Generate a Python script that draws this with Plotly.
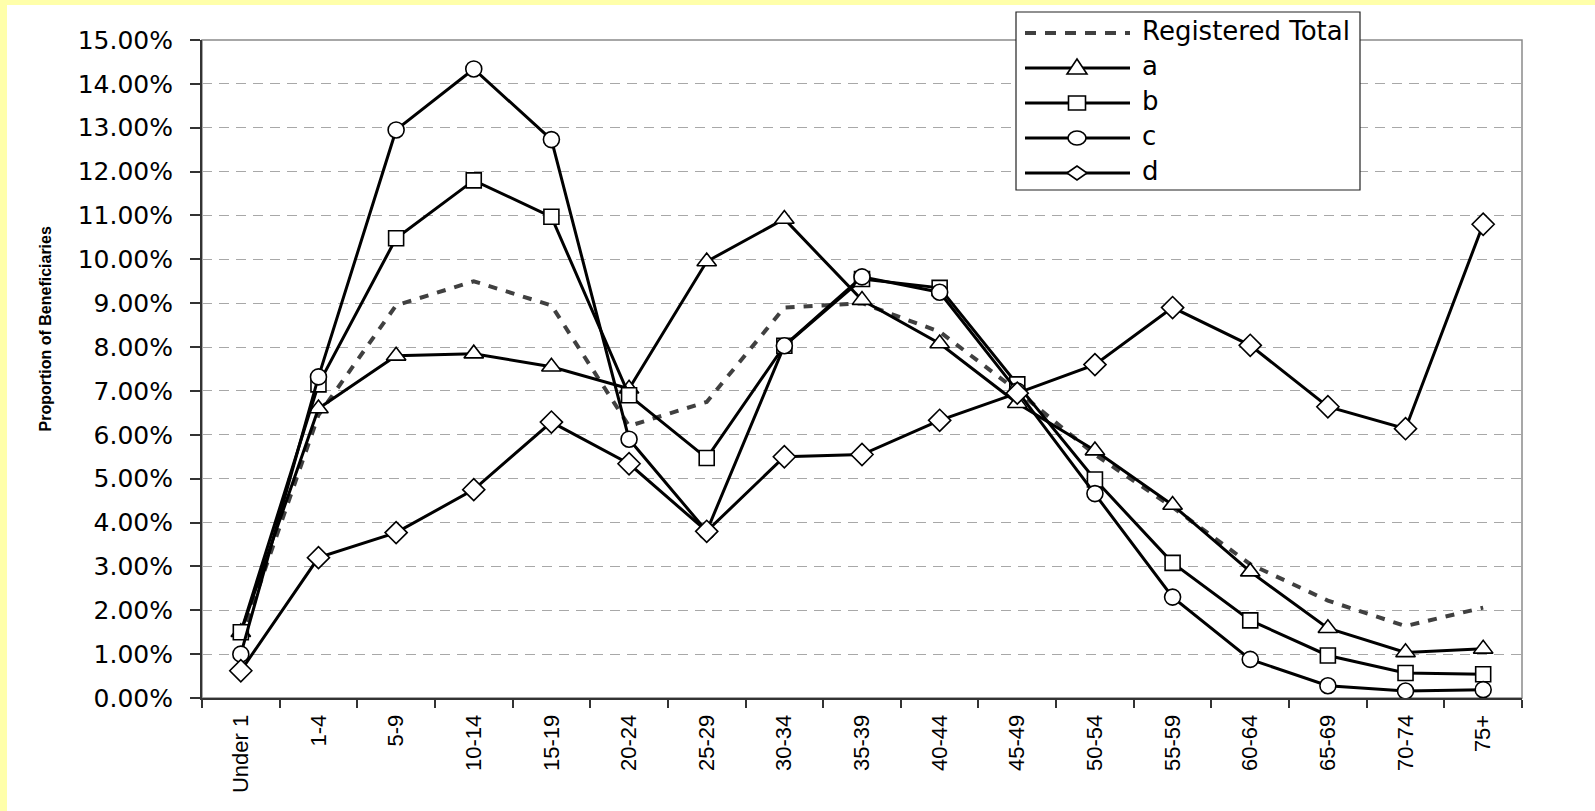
import plotly.graph_objects as go

# ---------------- data ----------------
categories = ["Under 1", "1-4", "5-9", "10-14", "15-19", "20-24", "25-29", "30-34",
              "35-39", "40-44", "45-49", "50-54", "55-59", "60-64", "65-69", "70-74", "75+"]

registered_total = [1.35, 6.45, 8.95, 9.50, 8.95, 6.20, 6.75, 8.90, 9.00, 8.35, 7.00,
                    5.55, 4.35, 3.05, 2.22, 1.64, 2.06]
series_a = [1.50, 6.60, 7.80, 7.85, 7.55, 7.05, 9.95, 10.92, 9.07, 8.08, 6.72,
            5.64, 4.40, 2.88, 1.59, 1.04, 1.12]
series_b = [1.50, 7.15, 10.48, 11.80, 10.97, 6.90, 5.47, 8.03, 9.55, 9.35, 7.15,
            4.98, 3.08, 1.77, 0.97, 0.57, 0.54]
series_c = [1.00, 7.32, 12.95, 14.34, 12.73, 5.90, 3.80, 8.03, 9.60, 9.25, 7.00,
            4.66, 2.30, 0.88, 0.28, 0.16, 0.19]
series_d = [0.62, 3.20, 3.77, 4.75, 6.29, 5.34, 3.80, 5.50, 5.55, 6.33, 6.95,
            7.60, 8.90, 8.04, 6.64, 6.14, 10.80]

y_ticks = list(range(0, 16))
y_ticktext = [f"{v:.2f}%" for v in y_ticks]

legend_names = ["Registered Total", "a", "b", "c", "d"]
y_title = "Proportion of Beneficiaries"

# ---------------- layout geometry ----------------
W, H = 1595, 811
L, R, T, B = 202, 73, 40, 113
PW, PH = W - L - R, H - T - B


def px_x(p):
    return (p - L) / PW


def px_y(p):
    return (H - B - p) / PH


fig = go.Figure()

fig.add_trace(go.Scatter(
    x=categories, y=registered_total, name=legend_names[0], mode="lines",
    line=dict(color="#404040", width=4, dash="9px,9px"), showlegend=False))

for vals, name, sym, sz in [(series_a, "a", "triangle-up", 17),
                            (series_b, "b", "square", 15),
                            (series_c, "c", "circle", 16),
                            (series_d, "d", "diamond", 17)]:
    fig.add_trace(go.Scatter(
        x=categories, y=vals, name=name, mode="lines+markers",
        line=dict(color="black", width=3),
        marker=dict(symbol=sym, color="white", size=sz,
                    line=dict(color="black", width=1.6)),
        showlegend=False, cliponaxis=False))

shapes = []
annotations = []

# white canvas leaving a yellow band on the left and top edges (paper bg is yellow)
shapes.append(dict(type="rect", xref="paper", yref="paper",
                   x0=px_x(7), x1=px_x(W + 10), y0=px_y(H + 10), y1=px_y(5),
                   fillcolor="white", line=dict(width=0), layer="below"))

# plot frame (top / right gray)
shapes.append(dict(type="rect", xref="paper", yref="paper", x0=0, x1=1, y0=0, y1=1,
                   line=dict(color="#8a8a8a", width=1.5), layer="below"))

# ---------------- custom legend ----------------
lx0, lx1, ly0, ly1 = 1016, 1360, 12, 190
shapes.append(dict(type="rect", xref="paper", yref="paper",
                   x0=px_x(lx0), x1=px_x(lx1), y0=px_y(ly1), y1=px_y(ly0),
                   fillcolor="white", line=dict(color="#222222", width=1.2), layer="above"))
rows = [33, 68, 103, 138, 173]
line_x0, line_x1, mark_x, text_x = 1025, 1130, 1077, 1140
for i, (name, ry) in enumerate(zip(legend_names, rows)):
    if i == 0:
        shapes.append(dict(type="line", xref="paper", yref="paper",
                           x0=px_x(line_x0), x1=px_x(line_x1), y0=px_y(ry), y1=px_y(ry),
                           line=dict(color="#404040", width=4, dash="11px,9px"), layer="above"))
    else:
        shapes.append(dict(type="line", xref="paper", yref="paper",
                           x0=px_x(line_x0), x1=px_x(line_x1), y0=px_y(ry), y1=px_y(ry),
                           line=dict(color="black", width=3), layer="above"))
        mk = dict(xref="paper", yref="paper", xsizemode="pixel", ysizemode="pixel",
                  xanchor=px_x(mark_x), yanchor=px_y(ry), fillcolor="white",
                  line=dict(color="black", width=1.6), layer="above")
        if name == "a":
            mk.update(type="path", path="M-10,-6 L10,-6 L0,9 Z")
        elif name == "b":
            mk.update(type="rect", x0=-8.5, x1=8.5, y0=-7, y1=7)
        elif name == "c":
            mk.update(type="circle", x0=-9, x1=9, y0=-7, y1=7)
        else:
            mk.update(type="path", path="M-10,0 L0,7 L10,0 L0,-7 Z")
        shapes.append(mk)
    annotations.append(dict(x=px_x(text_x), y=px_y(ry - 2), xref="paper", yref="paper",
                            text=name, showarrow=False, xanchor="left", yanchor="middle",
                            font=dict(family="DejaVu Sans", size=26, color="black")))

# y axis title
annotations.append(dict(x=px_x(45), y=px_y(329.5), xref="paper", yref="paper",
                        text=f"<b>{y_title}</b>", textangle=-90, showarrow=False,
                        xanchor="center", yanchor="middle",
                        font=dict(family="Liberation Sans, Arial", size=16, color="black")))

fig.update_layout(
    width=W, height=H,
    margin=dict(l=L, r=R, t=T, b=B, pad=0),
    paper_bgcolor="#FFFFAA", plot_bgcolor="white",
    shapes=shapes, annotations=annotations,
    showlegend=False,
    xaxis=dict(
        type="category", categoryorder="array", categoryarray=categories,
        range=[-0.5, len(categories) - 0.5],
        showline=True, linecolor="#333333", linewidth=2,
        ticks="outside", ticklen=8, tickwidth=1.5, tickcolor="#333333",
        tickson="boundaries", tickangle=-90, ticklabelstandoff=6,
        showgrid=False, zeroline=False,
        tickfont=dict(family="Liberation Sans, Arial", size=22, color="black"),
    ),
    yaxis=dict(
        range=[0, 15], tickvals=y_ticks, ticktext=y_ticktext,
        showline=True, linecolor="#333333", linewidth=2,
        ticks="outside", ticklen=10, tickwidth=1.5, tickcolor="#333333",
        ticklabelstandoff=12,
        showgrid=True, gridcolor="#a8a8a8", gridwidth=1, griddash="10px,7px",
        zeroline=False,
        tickfont=dict(family="DejaVu Sans", size=25, color="black"),
    ),
)

fig.write_html("out.html",
               config={"displayModeBar": False},
               post_script="document.body.style.margin='0px';"
                           "document.body.style.overflow='hidden';")
